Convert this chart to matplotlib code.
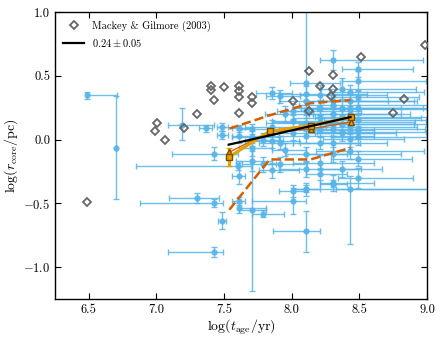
import matplotlib
matplotlib.use("Agg")
import matplotlib.pyplot as plt
import numpy as np

plt.rcParams['font.family'] = 'serif'
plt.rcParams['font.serif'] = ['cmr10', 'DejaVu Serif']
plt.rcParams['mathtext.fontset'] = 'cm'
plt.rcParams['axes.formatter.use_mathtext'] = True
plt.rcParams['axes.unicode_minus'] = True

# ---- Mackey & Gilmore (2003) ----
mg_age = [6.49, 7.406, 7.406, 7.50, 7.608, 7.608, 7.608, 7.425, 7.30, 7.003, 6.993,
          7.065, 7.203, 7.608, 8.126, 8.008, 8.126, 7.704, 7.704, 8.986, 8.509,
          8.307, 8.21, 8.307, 8.287, 8.83, 8.749]
mg_rc = [-0.49, 0.42, 0.385, 0.41, 0.42, 0.377, 0.336, 0.31, 0.20, 0.13, 0.07,
         0.0, 0.09, 0.21, 0.54, 0.30, 0.22, 0.33, 0.29, 0.74, 0.65,
         0.51, 0.42, 0.40, 0.34, 0.32, 0.21]

# ---- clusters with errors ----
age = [6.485, 6.70, 7.186, 7.363, 7.487, 7.487, 7.608, 7.608, 7.425, 7.608,
       7.30, 7.425, 7.485, 7.425, 7.608, 7.608, 7.707, 7.786, 8.008, 8.109,
       8.109, 8.307, 8.428, 7.60,
       7.707, 7.707, 7.707, 7.707, 7.786, 7.786, 7.855, 7.855, 7.855,
       7.91, 7.91, 7.91, 7.954, 7.954, 8.008, 8.008, 8.008,
       8.109, 8.109, 8.109, 8.109, 8.109, 8.109, 8.109, 8.109,
       8.208, 8.208, 8.208, 8.208, 8.208, 8.208,
       8.307, 8.307, 8.307, 8.307, 8.307, 8.307, 8.307,
       8.37, 8.37, 8.37, 8.37,
       8.428, 8.428, 8.428, 8.428, 8.428,
       8.49, 8.49, 8.49, 8.49, 8.49, 8.49, 8.49,
       8.208, 8.307, 8.37, 8.428, 8.49, 8.37, 8.428, 8.307, 8.208, 8.49,
       8.109, 8.008, 7.855]
rc = [0.346, -0.065, 0.117, 0.088, 0.096, 0.036, 0.088, 0.026, -0.112, -0.286,
      -0.46, -0.495, -0.635, -0.88, -0.48, -0.537, -0.55, -0.58, -0.48, -0.385,
      -0.72, -0.345, -0.385, -0.21,
      0.08, 0.02, -0.07, -0.17, 0.0, -0.195, 0.365, -0.013, -0.24,
      0.34, -0.026, -0.195, -0.078, 0.20, 0.22, 0.143, -0.404,
      0.44, 0.30, 0.22, 0.13, 0.026, -0.117, -0.23, -0.39,
      0.35, 0.25, 0.078, -0.026, -0.18, -0.27,
      0.623, 0.30, 0.20, -0.03, -0.117, -0.34, 0.12,
      0.40, 0.05, -0.23, 0.25,
      0.30, 0.20, 0.004, -0.09, 0.10,
      0.55, 0.46, 0.33, 0.25, 0.15, -0.15, -0.30,
      0.17, 0.27, 0.18, 0.37, 0.06, 0.12, 0.24, 0.08, 0.14, 0.02,
      0.36, 0.05, 0.10]
age_lo = [0.0, 0.0, 0.10, 0.05, 0.04, 0.04, 0.05, 0.05, 0.31, 0.05,
          0.21, 0.55, 0.03, 0.34, 0.05, 0.0, 0.10, 0.08, 0.30, 0.10,
          0.25, 0.10, 0.10, 0.75,
          0.10, 0.15, 0.10, 0.12, 0.10, 0.15, 0.12, 0.20, 0.10,
          0.10, 0.15, 0.12, 0.10, 0.15, 0.12, 0.15, 0.10,
          0.12, 0.20, 0.15, 0.30, 0.20, 0.15, 0.20, 0.10,
          0.15, 0.20, 0.30, 0.15, 0.20, 0.10,
          0.10, 0.20, 0.15, 0.30, 0.20, 0.10, 0.25,
          0.15, 0.20, 0.15, 0.30,
          0.20, 0.30, 0.20, 0.25, 0.35,
          0.12, 0.12, 0.20, 0.30, 0.25, 0.20, 0.15,
          0.20, 0.25, 0.20, 0.15, 0.30, 0.25, 0.30, 0.20, 0.35, 0.20,
          0.20, 0.15, 0.20]
age_hi = [0.22, 0.0, 0.24, 0.05, 0.04, 0.04, 0.10, 0.30, 0.18, 0.05,
          0.16, 0.07, 0.03, 0.07, 0.05, 0.20, 0.10, 0.16, 0.10, 1.00,
          0.10, 0.10, 0.60, 0.10,
          0.15, 0.20, 0.15, 0.15, 0.15, 0.10, 0.15, 0.20, 0.20,
          0.15, 0.10, 0.20, 0.15, 0.20, 0.15, 0.20, 0.10,
          0.25, 0.60, 0.40, 0.30, 0.50, 0.30, 0.40, 0.10,
          0.50, 0.60, 0.40, 0.30, 0.40, 0.20,
          0.66, 0.60, 0.50, 0.40, 0.50, 0.30, 0.60,
          0.55, 0.40, 0.30, 0.60,
          0.50, 0.45, 0.40, 0.55, 0.50,
          0.41, 0.50, 0.45, 0.55, 0.50, 0.40, 0.41,
          0.75, 0.70, 0.65, 0.55, 0.50, 0.62, 0.57, 0.68, 0.70, 0.51,
          0.45, 0.60, 0.40]
rc_lo = [0.03, 0.40, 0.12, 0.03, 0.03, 0.03, 0.03, 0.05, 0.05, 0.06,
         0.04, 0.03, 0.07, 0.04, 0.03, 0.04, 0.64, 0.03, 0.10, 0.03,
         0.16, 0.03, 0.43, 0.03,
         0.04, 0.05, 0.06, 0.08, 0.05, 0.06, 0.05, 0.05, 0.06,
         0.05, 0.05, 0.06, 0.05, 0.06, 0.06, 0.05, 0.05,
         0.08, 0.05, 0.05, 0.06, 0.05, 0.06, 0.06, 0.05,
         0.08, 0.06, 0.06, 0.05, 0.06, 0.05,
         0.08, 0.06, 0.06, 0.06, 0.06, 0.06, 0.06,
         0.08, 0.06, 0.06, 0.06,
         0.06, 0.06, 0.06, 0.06, 0.06,
         0.06, 0.08, 0.06, 0.06, 0.06, 0.06, 0.08,
         0.05, 0.06, 0.05, 0.06, 0.05, 0.05, 0.06, 0.05, 0.05, 0.06,
         0.06, 0.05, 0.05]
rc_hi = [0.03, 0.41, 0.13, 0.03, 0.03, 0.03, 0.03, 0.05, 0.05, 0.12,
         0.04, 0.03, 0.07, 0.04, 0.03, 0.04, 0.50, 0.03, 0.10, 0.03,
         0.16, 0.03, 0.10, 0.03,
         0.04, 0.05, 0.06, 0.08, 0.05, 0.06, 0.05, 0.05, 0.06,
         0.05, 0.05, 0.06, 0.05, 0.06, 0.06, 0.05, 0.05,
         0.60, 0.05, 0.05, 0.06, 0.05, 0.06, 0.06, 0.05,
         0.08, 0.06, 0.06, 0.05, 0.06, 0.05,
         0.08, 0.06, 0.06, 0.06, 0.06, 0.06, 0.06,
         0.08, 0.06, 0.06, 0.06,
         0.06, 0.06, 0.06, 0.06, 0.06,
         0.06, 0.08, 0.06, 0.06, 0.06, 0.06, 0.08,
         0.05, 0.06, 0.05, 0.06, 0.05, 0.05, 0.06, 0.05, 0.05, 0.06,
         0.06, 0.05, 0.05]

# ---- binned statistics ----
bin_age = [7.539, 7.837, 8.139, 8.435]
bin_mean = [-0.135, 0.065, 0.11, 0.174]
bin_mean_err = [0.07, 0.02, 0.02, 0.02]
bin_median = [-0.099, 0.06, 0.083, 0.138]
bin_upper = [0.086, 0.19, 0.285, 0.31]
bin_lower = [-0.55, -0.156, -0.156, -0.065]

fit_age = [7.534, 8.435]
fit_slope = 0.24
fit_icpt = -0.04

fig = plt.figure(figsize=(4.42, 3.41), dpi=100)
ax = fig.add_axes([0.1244, 0.1232, 0.8416, 0.8416])

blue = '#56B4E9'
ax.errorbar(age, rc, xerr=[age_lo, age_hi], yerr=[rc_lo, rc_hi], fmt='o',
            color=blue, ms=3.5, elinewidth=1.0, capsize=2, capthick=1.0,
            alpha=0.85, zorder=2)

ax.plot(mg_age, mg_rc, 'D', mfc='none', mec='#666666', mew=1.3, ms=4.2,
        label='Mackey & Gilmore (2003)', zorder=3)

ax.plot(bin_age, bin_upper, '--', color='#D55E00', lw=1.8, zorder=4)
ax.plot(bin_age, bin_lower, '--', color='#D55E00', lw=1.8, zorder=4)

ax.errorbar(bin_age, bin_mean, yerr=bin_mean_err, fmt='s-', color='#E69F00',
            mec='#7a4a00', ms=5, lw=2.2, capsize=2, zorder=5)
ax.plot(bin_age, bin_median, '^-', color='#D55E00', mfc='#E69F00',
        mec='#7a4a00', ms=5, lw=1.0, zorder=5)

fx = np.array(fit_age)
ax.plot(fx, fit_icpt + fit_slope * (fx - fx[0]), '-', color='k', lw=1.6,
        label=r'$0.24 \pm 0.05$', zorder=6)

ax.set_xlim(6.25, 9.0)
ax.set_ylim(-1.25, 1.0)
ax.set_xticks([6.5, 7.0, 7.5, 8.0, 8.5, 9.0])
ax.set_yticks([-1.0, -0.5, 0.0, 0.5, 1.0])
ax.set_xticklabels(['6.5', '7.0', '7.5', '8.0', '8.5', '9.0'])
ax.set_yticklabels([r'$-1.0$', r'$-0.5$', '0.0', '0.5', '1.0'])
ax.tick_params(direction='in', top=True, right=True, labelsize=9, length=4)
for s in ax.spines.values():
    s.set_linewidth(1.0)
ax.set_xlabel(r'$\log(t_{\rm age}/{\rm yr})$', fontsize=10, labelpad=1)
ax.set_ylabel(r'$\log(r_{\rm core}/{\rm pc})$', fontsize=10, labelpad=2)

ax.legend(loc='upper left', frameon=False, fontsize=7.5, numpoints=1,
          handlelength=2.0, borderaxespad=0.4)

fig.savefig('out.png', dpi=100)
